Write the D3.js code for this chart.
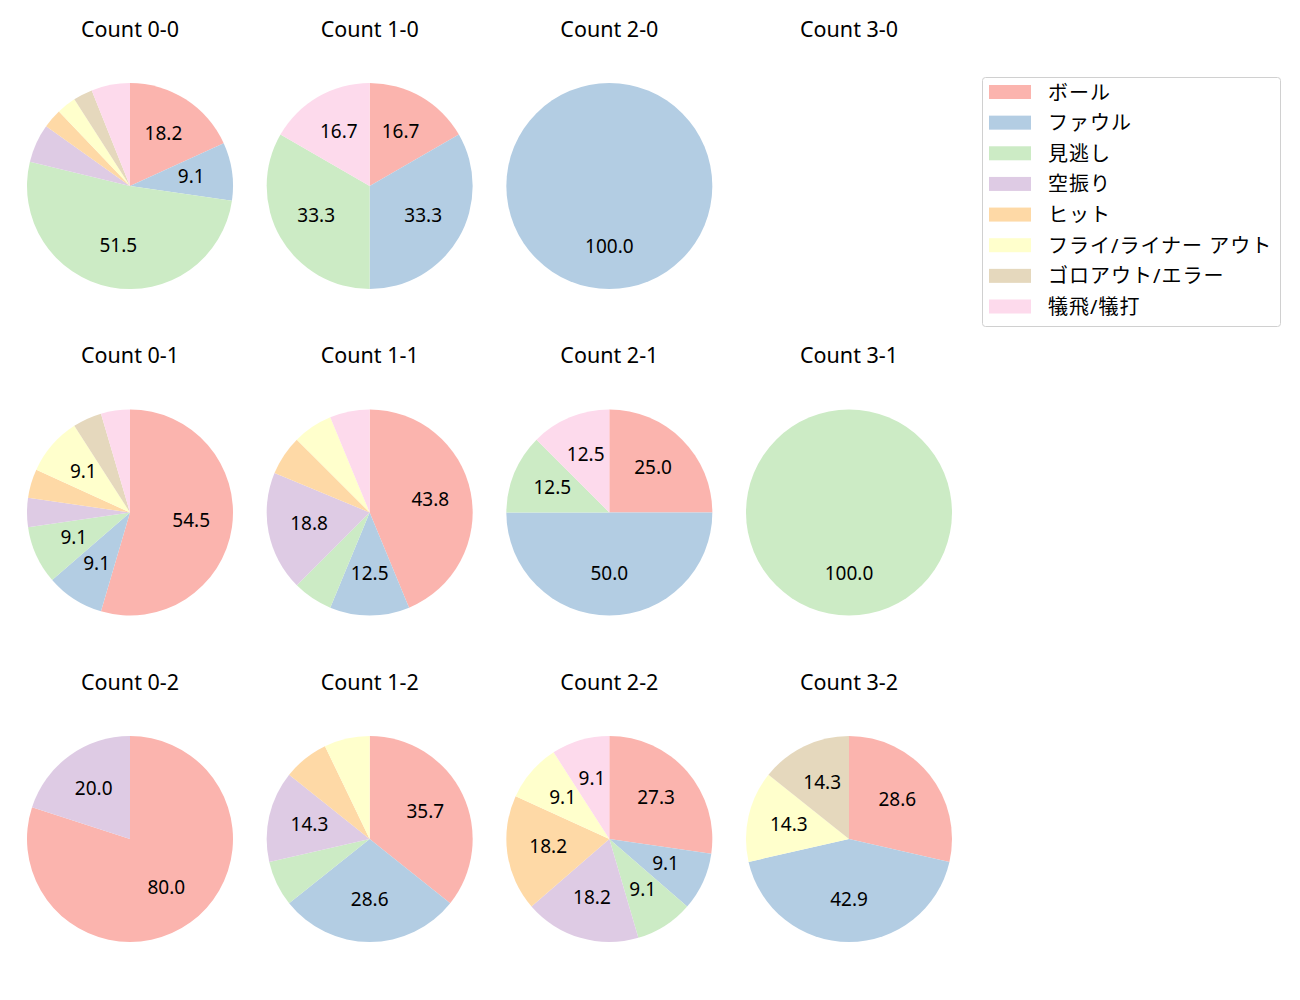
<!DOCTYPE html>
<html>
<head>
<meta charset="utf-8">
<script src="https://cdn.jsdelivr.net/npm/d3@7/dist/d3.min.js"></script>
<style>
  body { margin: 0; background: #fff; }
  svg { font-family: "Noto Sans", "Noto Sans CJK JP", sans-serif; }
</style>
</head>
<body>
<svg id="chart" width="1300" height="1000"></svg>
<script>
const categories = ["ボール", "ファウル", "見逃し", "空振り", "ヒット", "フライ/ライナー アウト", "ゴロアウト/エラー", "犠飛/犠打"];
const colors = ["#fbb4ae", "#b3cde3", "#ccebc5", "#decbe4", "#fed9a6", "#ffffcc", "#e5d8bd", "#fddaec"];
const counts = ["0-0", "1-0", "2-0", "3-0", "0-1", "1-1", "2-1", "3-1", "0-2", "1-2", "2-2", "3-2"];
// pitch counts per category (ordered as categories)
const values_0_0 = [6, 3, 17, 2, 1, 1, 1, 2];
const values_1_0 = [1, 2, 2, 0, 0, 0, 0, 1];
const values_2_0 = [0, 1, 0, 0, 0, 0, 0, 0];
const values_3_0 = [0, 0, 0, 0, 0, 0, 0, 0];
const values_0_1 = [12, 2, 2, 1, 1, 2, 1, 1];
const values_1_1 = [7, 2, 1, 3, 1, 1, 0, 1];
const values_2_1 = [2, 4, 1, 0, 0, 0, 0, 1];
const values_3_1 = [0, 0, 1, 0, 0, 0, 0, 0];
const values_0_2 = [4, 0, 0, 1, 0, 0, 0, 0];
const values_1_2 = [5, 4, 1, 2, 1, 1, 0, 0];
const values_2_2 = [3, 1, 1, 2, 2, 1, 0, 1];
const values_3_2 = [2, 3, 0, 0, 0, 1, 1, 0];
const allValues = [values_0_0, values_1_0, values_2_0, values_3_0,
                   values_0_1, values_1_1, values_2_1, values_3_1,
                   values_0_2, values_1_2, values_2_2, values_3_2];

const svg = d3.select("#chart");
const colX = d3.scalePoint().domain([0,1,2,3]).range([130, 849]);
const rowY = d3.scalePoint().domain([0,1,2]).range([186, 839]);
const R = 103;
const color = d3.scaleOrdinal().domain(categories).range(colors);

const pie = d3.pie().sort(null).value(d => d.v).startAngle(0).endAngle(2*Math.PI);
const arc = d3.arc().innerRadius(0).outerRadius(R);

counts.forEach((c, i) => {
  const col = i % 4, row = Math.floor(i / 4);
  const cx = colX(col), cy = rowY(row);
  const g = svg.append("g").attr("transform", `translate(${cx},${cy})`);
  g.append("text").attr("x", 0).attr("y", -158)
    .attr("text-anchor", "middle").attr("dominant-baseline", "central")
    .attr("font-size", 21.5).attr("fill", "#000")
    .text("Count " + c);
  const vals = allValues[i];
  const total = d3.sum(vals);
  if (total === 0) return;
  const data = categories.map((k, j) => ({k, v: vals[j]})).filter(d => d.v > 0);
  const arcs = pie(data);
  g.selectAll("path").data(arcs).join("path")
    .attr("d", arc).attr("fill", d => color(d.data.k));
  g.selectAll("text.lbl").data(arcs.filter(d => d.data.v / total * 100 >= 8)).join("text")
    .attr("class", "lbl")
    .attr("transform", d => {
      const mid = (d.startAngle + d.endAngle) / 2;
      return `translate(${Math.sin(mid) * R * 0.6},${-Math.cos(mid) * R * 0.6 - 1.5})`;
    })
    .attr("text-anchor", "middle").attr("dominant-baseline", "central")
    .attr("font-size", 19).attr("fill", "#000")
    .text(d => (d.data.v / total * 100).toFixed(1));
});

// legend
const lg = svg.append("g").attr("transform", "translate(982,77)");
lg.append("rect").attr("x", 0.5).attr("y", 0.5).attr("width", 298).attr("height", 249)
  .attr("rx", 3).attr("fill", "#fff").attr("stroke", "#d0d0d0");
const ly = d3.scalePoint().domain(categories).range([15, 229.5]);
categories.forEach(k => {
  lg.append("rect").attr("x", 7).attr("y", ly(k) - 7).attr("width", 42).attr("height", 14)
    .attr("fill", color(k));
  lg.append("text").attr("x", 66).attr("y", ly(k)).attr("dominant-baseline", "central")
    .attr("font-size", 20).attr("letter-spacing", 1).attr("fill", "#000").text(k);
});
</script>
</body>
</html>
